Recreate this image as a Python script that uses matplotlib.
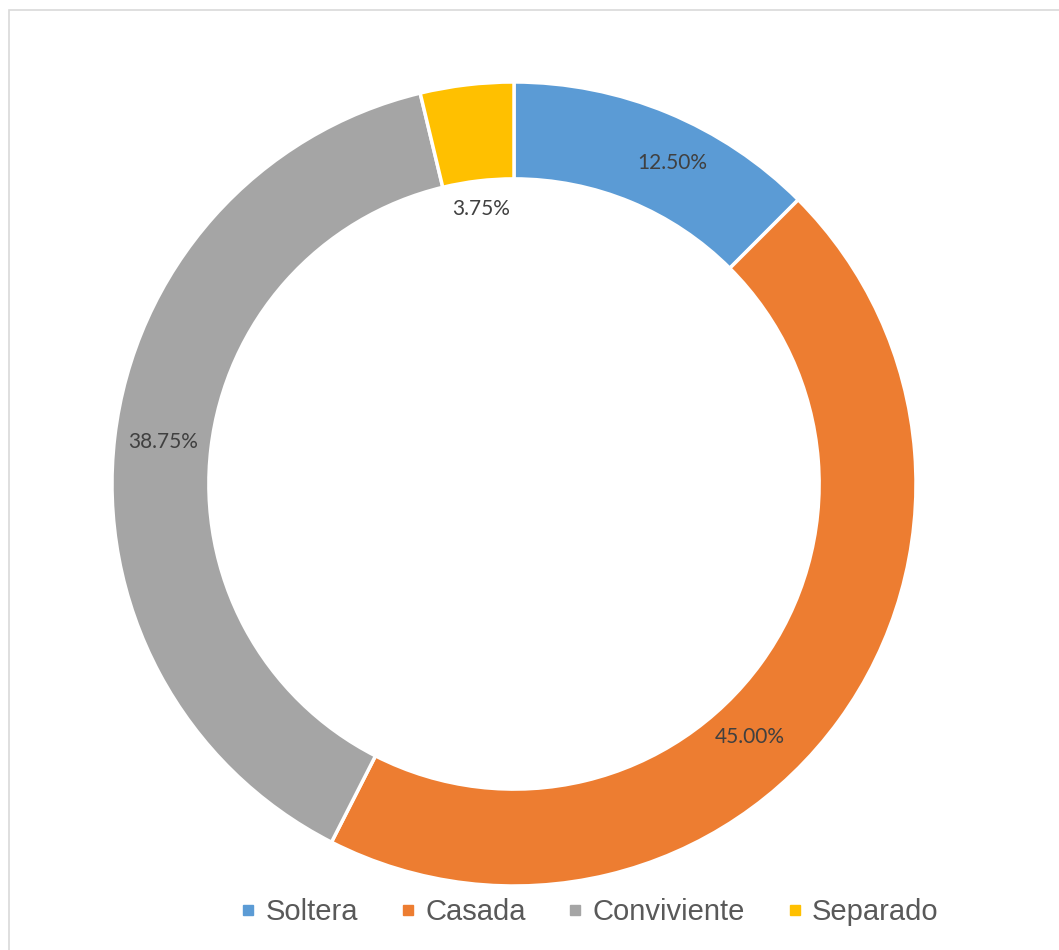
import numpy as np
import matplotlib
matplotlib.use("Agg")
import matplotlib.pyplot as plt
from matplotlib.lines import Line2D
from matplotlib.patches import Rectangle

# Estado civil (porcentaje)
labels = ["Soltera", "Casada", "Conviviente", "Separado"]
values = [12.50, 45.00, 38.75, 3.75]
colors = ["#5B9BD5", "#ED7D31", "#A5A5A5", "#FFC000"]

# label placement: radius (fraction of outer radius) and angular nudge in degrees
label_r = [0.89, 0.86, 0.88, 0.69]
label_nudge = [-3.7, -11.0, 0.0, 0.0]

W, H = 1059, 950
fig = plt.figure(figsize=(W / 100, H / 100), dpi=100)

# light frame around the chart area
fig.add_artist(Rectangle((8.5 / W, -0.1), 1.2, 1.1 - 9.5 / H, transform=fig.transFigure,
                         fill=False, edgecolor="#D9D9D9", linewidth=1.2))

cx, cy, r = 514, 466, 402  # pixel centre (from bottom) and outer radius
ax = fig.add_axes([(cx - r) / W, (cy - r) / H, 2 * r / W, 2 * r / H])

wedges, _ = ax.pie(
    values,
    colors=colors,
    startangle=90,
    counterclock=False,
    radius=1.0,
    wedgeprops={"width": 0.241, "edgecolor": "white", "linewidth": 2.5},
)
ax.set_xlim(-1, 1)
ax.set_ylim(-1, 1)
ax.set_aspect("equal")
ax.axis("off")

for w, v, lr, nudge in zip(wedges, values, label_r, label_nudge):
    ang = np.deg2rad((w.theta1 + w.theta2) / 2 + nudge)
    ax.text(lr * np.cos(ang), lr * np.sin(ang), f"{v:.2f}%",
            ha="center", va="center", fontsize=15, color="#404040",
            family="Lato")

handles = [Line2D([], [], marker="s", linestyle="none", markersize=7,
                  markerfacecolor=c, markeredgecolor=c) for c in colors]
fig.legend(handles, labels, loc="center", bbox_to_anchor=(589 / W, 38 / H),
           ncol=4, frameon=False, handlelength=0.6, handletextpad=0.3,
           columnspacing=1.4, prop={"family": "Liberation Sans", "size": 21},
           labelcolor="#595959")

fig.savefig("out.png", dpi=100, facecolor="white")
